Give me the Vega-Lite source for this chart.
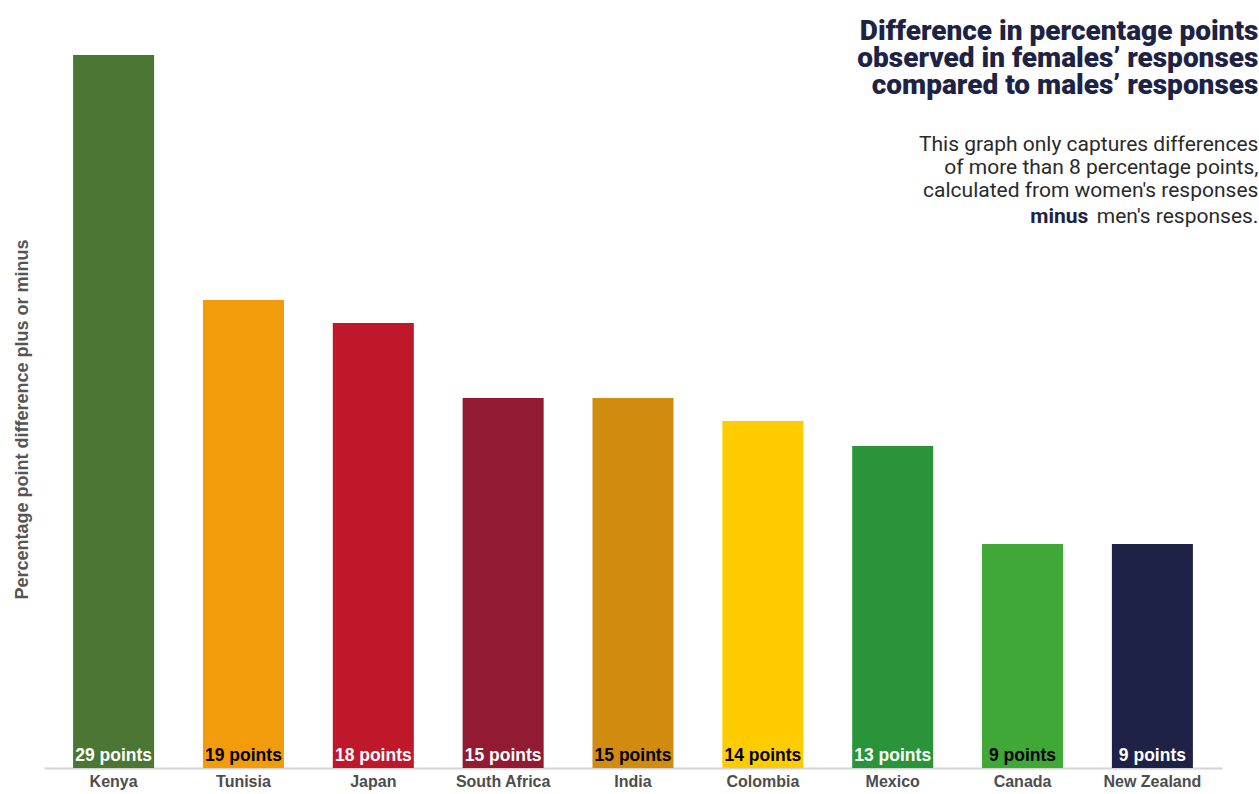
{
  "$schema": "https://vega.github.io/schema/vega-lite/v6.json",
  "autosize": {"type": "none"},
  "width": 1178,
  "height": 713,
  "padding": {"left": 44, "top": 55, "right": 37, "bottom": 26},
  "background": "white",
  "config": {"view": {"stroke": null}},
  "data": {"values": [
    {"country": "Kenya", "diff": 29, "label": "29 points"},
    {"country": "Tunisia", "diff": 19.03, "label": "19 points"},
    {"country": "Japan", "diff": 18.1, "label": "18 points"},
    {"country": "South Africa", "diff": 15.05, "label": "15 points"},
    {"country": "India", "diff": 15.05, "label": "15 points"},
    {"country": "Colombia", "diff": 14.11, "label": "14 points"},
    {"country": "Mexico", "diff": 13.1, "label": "13 points"},
    {"country": "Canada", "diff": 9.11, "label": "9 points"},
    {"country": "New Zealand", "diff": 9.11, "label": "9 points"}
  ]},
  "encoding": {
    "x": {"field": "country", "type": "nominal", "sort": null,
      "scale": {"paddingInner": 0.376, "paddingOuter": 0.224},
      "axis": {"title": null, "labelAngle": 0, "ticks": false, "domainColor": "#d4d4d4", "domainWidth": 2,
        "labelFont": "Liberation Sans", "labelFontWeight": "bold", "labelFontSize": 16,
        "labelColor": "#4d4d4d", "labelPadding": 5, "labelBaseline": "top"}}
  },
  "layer": [
    {
      "mark": {"type": "bar"},
      "encoding": {
        "y": {"field": "diff", "type": "quantitative", "scale": {"domain": [0, 29], "nice": false},
          "axis": {"title": "Percentage point  difference plus or minus", "labels": false, "ticks": false, "grid": false, "domain": false,
            "titleFont": "Liberation Sans", "titleFontWeight": "bold", "titleFontSize": 18,
            "titleColor": "#555555", "titlePadding": 13, "titleY": 364}},
        "color": {"field": "country", "type": "nominal", "legend": null,
          "scale": {"domain": ["Kenya", "Tunisia", "Japan", "South Africa", "India", "Colombia", "Mexico", "Canada", "New Zealand"],
            "range": ["#4b7634", "#f39c0b", "#c0182b", "#921a32", "#d18c10", "#ffcc00", "#29943a", "#3fa836", "#1d2246"]}}
      }
    },
    {
      "mark": {"type": "text", "baseline": "alphabetic", "dy": -7, "font": "Liberation Sans", "fontWeight": "bold", "fontSize": 17.5},
      "encoding": {
        "y": {"datum": 0},
        "text": {"field": "label"},
        "color": {"field": "country", "type": "nominal", "legend": null,
          "scale": {"domain": ["Kenya", "Tunisia", "Japan", "South Africa", "India", "Colombia", "Mexico", "Canada", "New Zealand"],
            "range": ["#ffffff", "#000000", "#ffffff", "#ffffff", "#000000", "#000000", "#ffffff", "#000000", "#ffffff"]}}
      }
    },
    {
      "data": {"values": [{"t": ["Difference in percentage points", "observed in females’ responses", "compared to males’ responses"]}]},
      "mark": {"type": "text", "align": "right", "baseline": "alphabetic", "font": "Roboto", "fontWeight": 900, "fontSize": 28, "lineHeight": 27, "color": "#1d2345", "dx": 106},
      "encoding": {"x": {"datum": "New Zealand", "bandPosition": 0.5}, "y": {"datum": 29.6}, "text": {"field": "t"}}
    },
    {
      "data": {"values": [{"t": ["This graph only captures differences", "of more than 8 percentage points,", "calculated from women's responses"]}]},
      "mark": {"type": "text", "align": "right", "baseline": "alphabetic", "font": "Roboto", "fontSize": 21, "lineHeight": 23, "color": "#2a2a2a", "dx": 106},
      "encoding": {"x": {"datum": "New Zealand", "bandPosition": 0.5}, "y": {"datum": 25.1}, "text": {"field": "t"}}
    },
    {
      "data": {"values": [{"t": "men's responses."}]},
      "mark": {"type": "text", "align": "right", "baseline": "alphabetic", "font": "Roboto", "fontSize": 21, "color": "#2a2a2a", "dx": 106},
      "encoding": {"x": {"datum": "New Zealand", "bandPosition": 0.5}, "y": {"datum": 22.16}, "text": {"field": "t"}}
    },
    {
      "data": {"values": [{"t": "minus"}]},
      "mark": {"type": "text", "align": "right", "baseline": "alphabetic", "font": "Roboto", "fontWeight": "bold", "fontSize": 21, "color": "#1d2345", "dx": -64},
      "encoding": {"x": {"datum": "New Zealand", "bandPosition": 0.5}, "y": {"datum": 22.16}, "text": {"field": "t"}}
    }
  ],
  "resolve": {"scale": {"color": "independent"}}
}
